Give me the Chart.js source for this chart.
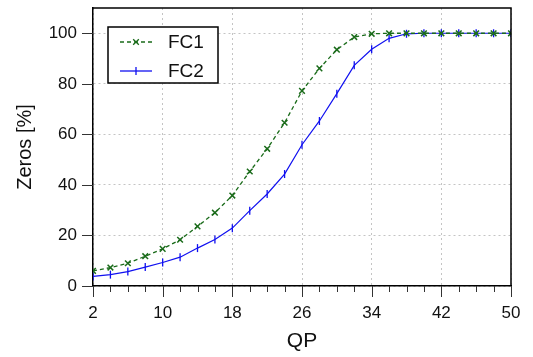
<!DOCTYPE html>
<html lang="en">
<head>
  <meta charset="UTF-8">
  <title>Zeros vs QP</title>
  <script src="https://cdn.jsdelivr.net/npm/chart.js"></script>
  <style>
    body { margin: 0; background: #fff; }
  </style>
</head>
<body>
  <canvas id="grafico" width="533" height="357"></canvas>
  <script>
    const qp  = [2, 4, 6, 8, 10, 12, 14, 16, 18, 20, 22, 24, 26, 28, 30, 32, 34, 36, 38, 40, 42, 44, 46, 48, 50];
    const fc1 = [6.0, 7.3, 9.0, 11.8, 14.7, 18.3, 23.6, 29.0, 35.8, 45.3, 54.3, 64.6, 77.2, 86.1, 93.5, 98.5, 99.8, 100, 100, 100, 100, 100, 100, 100, 100];
    const fc2 = [3.8, 4.5, 5.7, 7.5, 9.3, 11.4, 15.0, 18.4, 22.9, 29.8, 36.4, 44.3, 55.9, 65.3, 76.1, 87.3, 93.7, 98.0, 99.8, 100, 100, 100, 100, 100, 100];
    const yTicks = [0, 20, 40, 60, 80, 100];
    const seriesNames = ['FC1', 'FC2'];

    const verde = '#1a6b1a';
    const azul = '#1010f0';
    const font = 'Liberation Sans, Arial, sans-serif';

    const pontos = vals => qp.map((x, i) => ({ x: x, y: vals[i] }));

    // moldura + marcas de escala + legenda com caixa
    const extras = {
      id: 'extras',
      afterDraw(chart) {
        const ctx = chart.ctx;
        const a = chart.chartArea;
        const xs = chart.scales.x, ys = chart.scales.y;
        ctx.save();
        ctx.strokeStyle = '#000';
        ctx.lineWidth = 1.5;
        ctx.beginPath();
        ctx.moveTo(a.left, a.top); ctx.lineTo(a.right, a.top); ctx.lineTo(a.right, a.bottom);
        ctx.stroke();

        ctx.lineWidth = 1;
        ctx.strokeStyle = '#333';
        ctx.beginPath();
        qp.forEach(v => {
          const px = Math.round(xs.getPixelForValue(v)) + 0.5;
          const len = (v - 2) % 8 === 0 ? 11 : 6;
          ctx.moveTo(px, a.bottom); ctx.lineTo(px, a.bottom + len);
        });
        yTicks.forEach(v => {
          const py = Math.round(ys.getPixelForValue(v)) + 0.5;
          ctx.moveTo(a.left - 11, py); ctx.lineTo(a.left, py);
        });
        ctx.stroke();

        // legenda
        const bx = 108, by = 27, bw = 110, bh = 56;
        ctx.fillStyle = '#fff';
        ctx.fillRect(bx, by, bw, bh);
        ctx.strokeStyle = '#000';
        ctx.lineWidth = 1.5;
        ctx.strokeRect(bx, by, bw, bh);
        const rows = [
          { y: 42, cor: verde, dash: [4, 3], estilo: 'crossRot', rot: 0 },
          { y: 71, cor: azul, dash: [], estilo: 'line', rot: 90 }
        ];
        rows.forEach((r, i) => {
          ctx.strokeStyle = r.cor;
          ctx.lineWidth = 1.3;
          ctx.setLineDash(r.dash);
          ctx.beginPath();
          ctx.moveTo(120, r.y); ctx.lineTo(152, r.y);
          ctx.stroke();
          ctx.setLineDash([]);
          Chart.helpers.drawPoint(ctx, { pointStyle: r.estilo, rotation: r.rot, radius: 4, borderWidth: 1.3 }, 136, r.y);
          ctx.fillStyle = '#111';
          ctx.font = '19px ' + font;
          ctx.textBaseline = 'middle';
          ctx.textAlign = 'left';
          ctx.fillText(seriesNames[i], 168, r.y + 1);
        });
        ctx.restore();
      }
    };

    new Chart(document.getElementById('grafico'), {
      type: 'line',
      data: {
        datasets: [
          {
            label: seriesNames[0],
            data: pontos(fc1),
            borderColor: verde,
            backgroundColor: verde,
            borderWidth: 1.3,
            borderDash: [4, 3],
            pointStyle: 'crossRot',
            pointRadius: 4,
            pointBorderWidth: 1.5,
            tension: 0
          },
          {
            label: seriesNames[1],
            data: pontos(fc2),
            borderColor: azul,
            backgroundColor: azul,
            borderWidth: 1.2,
            pointStyle: 'line',
            pointRotation: 90,
            pointRadius: 4,
            pointBorderWidth: 1.3,
            tension: 0
          }
        ]
      },
      options: {
        responsive: false,
        animation: false,
        layout: { padding: { top: 8, right: 22, left: 0, bottom: 0 } },
        plugins: {
          legend: { display: false },
          tooltip: { enabled: false }
        },
        scales: {
          x: {
            type: 'linear',
            min: 2,
            max: 50,
            afterFit: s => { s.height = 71; s.paddingLeft = 0; s.paddingRight = 0; },
            border: { color: '#000', width: 1.5, dash: [2, 3] },
            grid: {
              drawTicks: false,
              color: c => (c.tick && (c.tick.value - 2) % 8 === 0) ? '#c4c4c4' : 'rgba(0,0,0,0)',
              lineWidth: 1
            },
            ticks: {
              stepSize: 2,
              autoSkip: false,
              maxRotation: 0,
              padding: 17,
              color: '#111',
              font: { family: font, size: 17 },
              callback: v => (v - 2) % 8 === 0 ? v : ''
            },
            title: {
              display: true,
              text: 'QP',
              color: '#111',
              font: { family: font, size: 21 },
              padding: { top: 0, bottom: 3 }
            }
          },
          y: {
            min: 0,
            max: 110,
            bounds: 'data',
            afterFit: s => { s.width = 93; s.paddingTop = 0; s.paddingBottom = 0; },
            afterBuildTicks: s => { s.ticks = yTicks.map(v => ({ value: v })); },
            border: { color: '#000', width: 1.5, dash: [2, 3] },
            grid: {
              drawTicks: false,
              color: '#c4c4c4',
              lineWidth: 1
            },
            ticks: {
              padding: 16,
              color: '#111',
              font: { family: font, size: 17 }
            },
            title: {
              display: true,
              text: 'Zeros [%]',
              color: '#111',
              font: { family: font, size: 20 },
              padding: { top: 13, bottom: 0 }
            }
          }
        }
      },
      plugins: [extras]
    });
  </script>
</body>
</html>
